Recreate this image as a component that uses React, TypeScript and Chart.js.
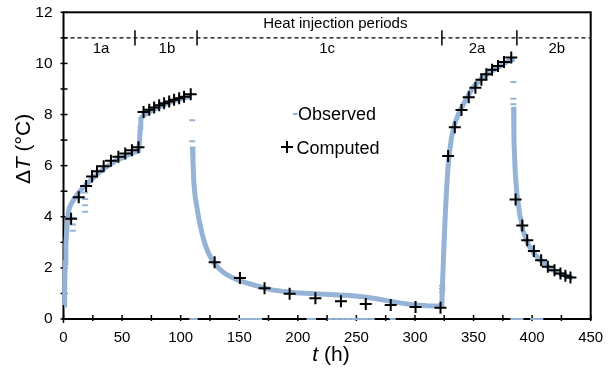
import React, { useEffect, useRef } from 'react';
import { Chart, registerables } from 'chart.js';

Chart.register(...registerables);

// Observed temperature rise (continuous band); null = gap
const observedT: number[] = [
  0.5, 1, 1.5, 2, 3, 4, 5, 7, 10, 13, 16, 20, 25, 30, 35, 40, 45, 50, 55, 60, 64, 65, 65.5, 66, 68, 72, 76, 80, 85, 90, 95, 100, 105, 108.5,
  109,
  110, 110.5, 111.3, 112.5, 114.3, 116, 118.5, 121, 124, 127, 130, 134, 138, 144, 150, 157, 164, 171, 178, 186, 198, 210, 223, 235, 245, 257, 266, 276, 287, 298, 310, 321, 323,
  323.3, 323.6, 324.2, 324.9, 325.9, 326.9, 328, 329, 331.2, 334, 338.3, 343.9, 349.6, 356.7, 363.8, 371, 378, 385,
  385.5,
  384.2, 384.5, 385.6, 387, 389.3, 392.1, 396.4, 402, 409.2, 416.3, 424.8, 434.7,
];
const observedV: (number | null)[] = [
  0.55, 1.3, 2.2, 2.9, 3.6, 4.1, 4.35, 4.55, 4.75, 4.95, 5.1, 5.3, 5.5, 5.72, 5.9, 6.05, 6.2, 6.3, 6.42, 6.52, 6.58, 7.0, 7.5, 7.85, 7.95, 8.08, 8.18, 8.27, 8.37, 8.46, 8.54, 8.61, 8.67, 8.72,
  null,
  6.75, 6.2, 5.3, 4.75, 4.25, 3.8, 3.3, 2.9, 2.55, 2.3, 2.1, 1.92, 1.77, 1.62, 1.5, 1.4, 1.31, 1.22, 1.14, 1.09, 1.03, 1.0, 0.97, 0.94, 0.92, 0.86, 0.8, 0.72, 0.63, 0.56, 0.52, 0.51, 0.55,
  1.2, 1.5, 2.2, 3.05, 4.1, 5.0, 5.8, 6.35, 7.1, 7.65, 8.15, 8.62, 9.07, 9.4, 9.65, 9.85, 10.05, 10.18,
  null,
  8.3, 7.0, 5.7, 4.9, 4.12, 3.47, 2.94, 2.54, 2.21, 1.95, 1.76, 1.6,
];

// Isolated observed readings (single dashes)
const observedExtraT: number[] = [
  8, 8, 8, 18.5, 18.5, 18.5, 18.5, 109.8, 109.8, 323.2, 323.2, 323.2, 384, 384, 384,
  110, 112, 151, 155, 159, 163, 167, 210, 213, 228, 233, 238, 243, 248, 253, 258, 263, 281, 384, 387, 390, 401, 404, 407,
];
const observedExtraV: number[] = [
  3.45, 3.7, 3.95, 4.2, 4.45, 4.7, 4.95, 7.78, 6.95, 1.05, 1.17, 1.3, 9.27, 8.62, 8.4,
  0, 0, 0, 0, 0, 0, 0, 0, 0, 0, 0, 0, 0, 0, 0, 0, 0, 0, 0, 0, 0, 0, 0, 0,
];

// Computed temperature rise
const computedT: number[] = [
  6.5, 13, 19.3, 24.4, 28.6, 34.3, 40.5, 46.8, 52.7, 58.4, 64,
  68.3, 73.2, 77.4, 81.7, 85.9, 90.2, 94.4, 98.7, 102.9, 108.6,
  129, 150.6, 171.6, 193, 215, 236.8, 258, 279.3, 300.5, 321.8,
  328.3, 334, 339.7, 345.9, 351.6, 356.7, 360.9, 365.8, 370.9, 376, 382.2,
  385.9, 391.6, 395.8, 401.5, 407.7, 413.4, 419.1, 424.2, 428.4, 432.7,
];
const computedV: number[] = [
  3.92, 4.76, 5.2, 5.58, 5.78, 5.98, 6.19, 6.35, 6.48, 6.6, 6.72,
  8.1, 8.19, 8.28, 8.36, 8.44, 8.51, 8.58, 8.64, 8.7, 8.79,
  2.22, 1.6, 1.2, 0.99, 0.81, 0.69, 0.59, 0.55, 0.47, 0.44,
  6.38, 7.5, 8.18, 8.68, 9.05, 9.36, 9.58, 9.75, 9.9, 10.06, 10.23,
  4.68, 3.66, 3.08, 2.66, 2.3, 2.04, 1.91, 1.78, 1.69, 1.62,
];

// Heat injection periods
const periodBoundaries: number[] = [61, 114, 323, 387];
const periodLabels: string[] = ['1a', '1b', '1c', '2a', '2b'];
const periodLabelT: number[] = [32, 88.3, 225, 353, 421];
const periodLineLevel = 11;
const periodTitle = 'Heat injection periods';

const FONT = "'Liberation Sans', Arial, sans-serif";
const BLUE = '#95B3D7';

const decorPlugin = {
  id: 'decor',
  beforeDatasetsDraw(chart: any) {
    const { ctx, chartArea: a, scales } = chart;
    const xs = scales.x;
    const ys = scales.y;
    ctx.save();
    ctx.strokeStyle = '#000';
    // dashed period line
    const yLine = ys.getPixelForValue(periodLineLevel);
    ctx.lineWidth = 1.3;
    ctx.setLineDash([4, 3]);
    ctx.beginPath();
    ctx.moveTo(a.left, yLine);
    ctx.lineTo(a.right, yLine);
    ctx.stroke();
    ctx.setLineDash([]);
    ctx.lineWidth = 1.5;
    periodBoundaries.forEach((t) => {
      const px = xs.getPixelForValue(t);
      ctx.beginPath();
      ctx.moveTo(px, ys.getPixelForValue(periodLineLevel + 0.3));
      ctx.lineTo(px, ys.getPixelForValue(periodLineLevel - 0.3));
      ctx.stroke();
    });
    ctx.fillStyle = '#000';
    ctx.font = `15px ${FONT}`;
    ctx.textAlign = 'center';
    ctx.textBaseline = 'middle';
    ctx.fillText(periodTitle, xs.getPixelForValue(232), ys.getPixelForValue(11.54));
    periodLabels.forEach((lab, i) => {
      ctx.fillText(lab, xs.getPixelForValue(periodLabelT[i]), ys.getPixelForValue(10.56));
    });
    // frame
    ctx.lineWidth = 2;
    ctx.strokeRect(a.left, a.top, a.right - a.left, a.bottom - a.top);
    // ticks
    ctx.lineWidth = 1.5;
    for (let v = 0; v <= 12; v++) {
      const py = ys.getPixelForValue(v);
      ctx.beginPath();
      ctx.moveTo(a.left - 3, py);
      ctx.lineTo(a.left + 4, py);
      ctx.stroke();
    }
    for (let t = 0; t <= 450; t += 25) {
      const px = xs.getPixelForValue(t);
      ctx.beginPath();
      ctx.moveTo(px, a.bottom - 4);
      ctx.lineTo(px, a.bottom + (t === 0 ? 4 : 2));
      ctx.stroke();
    }
    ctx.restore();
  },
  afterDraw(chart: any) {
    const { ctx } = chart;
    ctx.save();
    ctx.fillStyle = '#000';
    ctx.textBaseline = 'middle';
    // y title
    const parts: [string, string][] = [
      ['Δ', `21px ${FONT}`],
      ['T', `italic 21px ${FONT}`],
      [' (°C)', `21px ${FONT}`],
    ];
    let total = 0;
    parts.forEach(([s, f]) => { ctx.font = f; total += ctx.measureText(s).width; });
    ctx.translate(24, 149);
    ctx.rotate(-Math.PI / 2);
    let x = -total / 2;
    ctx.textAlign = 'left';
    parts.forEach(([s, f]) => { ctx.font = f; ctx.fillText(s, x, 0); x += ctx.measureText(s).width; });
    ctx.setTransform(1, 0, 0, 1, 0, 0);
    // x title
    const xparts: [string, string][] = [
      ['t', `italic 21px ${FONT}`],
      [' (h)', `21px ${FONT}`],
    ];
    total = 0;
    xparts.forEach(([s, f]) => { ctx.font = f; total += ctx.measureText(s).width; });
    x = 331 - total / 2;
    xparts.forEach(([s, f]) => { ctx.font = f; ctx.fillText(s, x, 355); x += ctx.measureText(s).width; });
    // legend
    ctx.strokeStyle = BLUE;
    ctx.lineWidth = 2;
    ctx.beginPath();
    ctx.moveTo(293, 114);
    ctx.lineTo(297.5, 114);
    ctx.stroke();
    ctx.strokeStyle = '#000';
    ctx.beginPath();
    ctx.moveTo(281, 147);
    ctx.lineTo(293, 147);
    ctx.moveTo(287, 141);
    ctx.lineTo(287, 153);
    ctx.stroke();
    ctx.font = `18px ${FONT}`;
    ctx.textBaseline = 'alphabetic';
    ctx.fillText('Observed', 298, 120);
    ctx.fillText('Computed', 296.5, 154);
    ctx.restore();
  },
};

const zeroPad = (s: any) => {
  s.paddingTop = 0;
  s.paddingBottom = 0;
  s.paddingLeft = 0;
  s.paddingRight = 0;
};

export default function App() {
  const ref = useRef<HTMLCanvasElement | null>(null);
  useEffect(() => {
    if (!ref.current) return;
    const observed = observedT.map((t, i) => ({ x: t, y: observedV[i] }));
    const extra = observedExtraT.map((t, i) => ({ x: t, y: observedExtraV[i] }));
    const computed = computedT.map((t, i) => ({ x: t, y: computedV[i] }));
    const chart = new Chart(ref.current, {
      type: 'line',
      data: {
        datasets: [
          {
            label: 'Observed',
            data: observed as any,
            order: 3,
            borderColor: BLUE,
            backgroundColor: BLUE,
            borderWidth: 5,
            pointRadius: 0,
            spanGaps: false,
            tension: 0,
            clip: 8,
          },
          {
            label: 'Observed (isolated)',
            data: extra as any,
            order: 2,
            showLine: false,
            pointStyle: 'line',
            pointRadius: 3,
            borderColor: BLUE,
            backgroundColor: BLUE,
            pointBorderWidth: 2,
            clip: 8,
          },
          {
            label: 'Computed',
            data: computed as any,
            order: 0,
            showLine: false,
            pointStyle: 'cross',
            pointRadius: 6,
            pointBorderWidth: 2,
            borderWidth: 2,
            borderColor: '#000',
            backgroundColor: '#000',
            pointBorderColor: '#000',
            clip: 10,
          },
        ],
      },
      options: {
        responsive: false,
        animation: false,
        devicePixelRatio: 1,
        layout: { padding: { top: 12.3, right: 22.3, left: 0, bottom: 0 } },
        plugins: { legend: { display: false }, tooltip: { enabled: false } },
        scales: {
          x: {
            type: 'linear',
            min: 0,
            max: 450,
            grid: { display: false, drawTicks: false },
            border: { display: false },
            ticks: {
              stepSize: 25,
              autoSkip: false,
              maxRotation: 0,
              padding: 10,
              color: '#000',
              font: { family: FONT, size: 15 },
              callback: (v: any) => (Number(v) % 50 === 0 ? String(v) : ''),
            },
            afterFit: (s: any) => { s.height = 55; zeroPad(s); },
          },
          y: {
            type: 'linear',
            min: 0,
            max: 12,
            grid: { display: false, drawTicks: false },
            border: { display: false },
            ticks: {
              stepSize: 1,
              autoSkip: false,
              padding: 11,
              color: '#000',
              font: { family: FONT, size: 15.5 },
              callback: (v: any) => (Number(v) % 2 === 0 ? String(v) : ''),
            },
            afterFit: (s: any) => { s.width = 63.5; zeroPad(s); },
          },
        },
      } as any,
      plugins: [decorPlugin],
    });
    return () => chart.destroy();
  }, []);
  return (
    <div style={{ position: 'absolute', left: 0, top: 0, width: 613, height: 374, background: '#fff' }}>
      <canvas ref={ref} width={613} height={374} />
    </div>
  );
}
